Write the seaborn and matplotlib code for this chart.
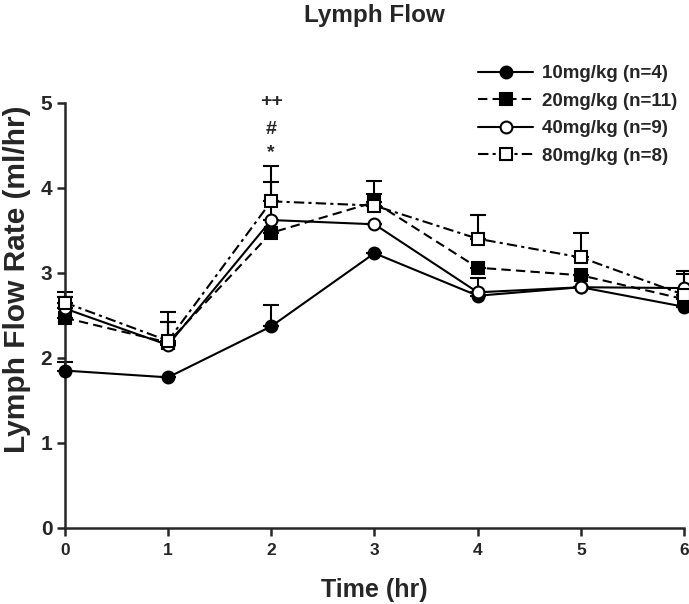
import pandas as pd
import matplotlib
matplotlib.use('Agg')
import matplotlib.pyplot as plt
import seaborn as sns

# Values
time_hr = [0, 1, 2, 3, 4, 5, 6]
doses = ['10mg/kg (n=4)', '20mg/kg (n=11)', '40mg/kg (n=9)', '80mg/kg (n=8)']
flow_10 = [1.85, 1.77, 2.37, 3.23, 2.73, 2.83, 2.60]
flow_20 = [2.47, 2.18, 3.47, 3.83, 3.06, 2.97, 2.69]
flow_40 = [2.58, 2.15, 3.62, 3.57, 2.77, 2.83, 2.82]
flow_80 = [2.65, 2.20, 3.84, 3.79, 3.40, 3.18, 2.74]
sem_10 = [0.10, 0.00, 0.25, 0.00, 0.00, 0.00, 0.00]
sem_20 = [0.25, 0.24, 0.00, 0.10, 0.00, 0.00, 0.00]
sem_40 = [0.14, 0.27, 0.45, 0.00, 0.17, 0.00, 0.16]
sem_80 = [0.12, 0.34, 0.41, 0.29, 0.28, 0.29, 0.28]
sig_marks = ['*', '#', '++']
sig_y = [4.41, 4.68, 5.01]

flows = [flow_10, flow_20, flow_40, flow_80]
sems = [sem_10, sem_20, sem_40, sem_80]

rows = []
for dose, vals, errs in zip(doses, flows, sems):
    for t, v, e in zip(time_hr, vals, errs):
        rows.append({'time': t, 'flow': v, 'sem': e, 'dose': dose})
df = pd.DataFrame(rows)

sns.set_style('ticks')
plt.rcParams['font.family'] = ['Liberation Sans', 'DejaVu Sans']
plt.rcParams['font.weight'] = 'bold'

styles = {
    doses[0]: dict(marker='o', linestyle='-', mfc='black'),
    doses[1]: dict(marker='s', linestyle=(0, (4.5, 2.5)), mfc='black'),
    doses[2]: dict(marker='o', linestyle='-', mfc='white'),
    doses[3]: dict(marker='s', linestyle=(0, (5, 2, 1.5, 2)), mfc='white'),
}

fig = plt.figure(figsize=(6.89, 6.04), dpi=100)
ax = fig.add_axes([0.094, 0.126, 0.899, 0.704])

for dose in doses:
    sub = df[df['dose'] == dose]
    st = styles[dose]
    # upper error bars only
    ax.errorbar(sub['time'], sub['flow'], yerr=[[0] * len(sub), sub['sem']],
                fmt='none', ecolor='black', elinewidth=1.5, capsize=6,
                capthick=1.5, zorder=2, clip_on=False)
    sns.lineplot(data=sub, x='time', y='flow', ax=ax, color='black',
                 linewidth=1.5, marker=st['marker'], linestyle=st['linestyle'],
                 markersize=8.5, markerfacecolor=st['mfc'],
                 markeredgecolor='black', markeredgewidth=1.5,
                 label=dose, zorder=3, clip_on=False)

for s, yv in zip(sig_marks, sig_y):
    ax.text(2, yv, s, ha='center', va='center', fontsize=14,
            fontweight='bold')

ax.set_xlim(0, 6)
ax.set_ylim(0, 5)
ax.set_xticks(range(0, 7))
ax.set_yticks(range(0, 6))
sns.despine(ax=ax)
for sp in ['left', 'bottom']:
    ax.spines[sp].set_linewidth(1.8)
ax.tick_params(width=1.8, length=6)
ax.tick_params(axis='x', labelsize=12.5, pad=5)
ax.tick_params(axis='y', labelsize=15, pad=3)
ax.set_xlabel('Time (hr)', fontsize=18, fontweight='bold', labelpad=14)
ax.set_ylabel('Lymph Flow Rate (ml/hr)', fontsize=21.5, fontweight='bold')
ax.yaxis.set_label_coords(-0.054, 0.585)
ax.set_title('Lymph Flow', fontsize=17.5, fontweight='bold', y=1.17)

ax.legend(loc='upper left', bbox_to_anchor=(0.694, 0.892),
          bbox_transform=fig.transFigure, frameon=False,
          fontsize=13.5, handlelength=2.93, labelspacing=0.55,
          handletextpad=0.48, borderaxespad=0, borderpad=0)

fig.savefig('out.png', dpi=100)
